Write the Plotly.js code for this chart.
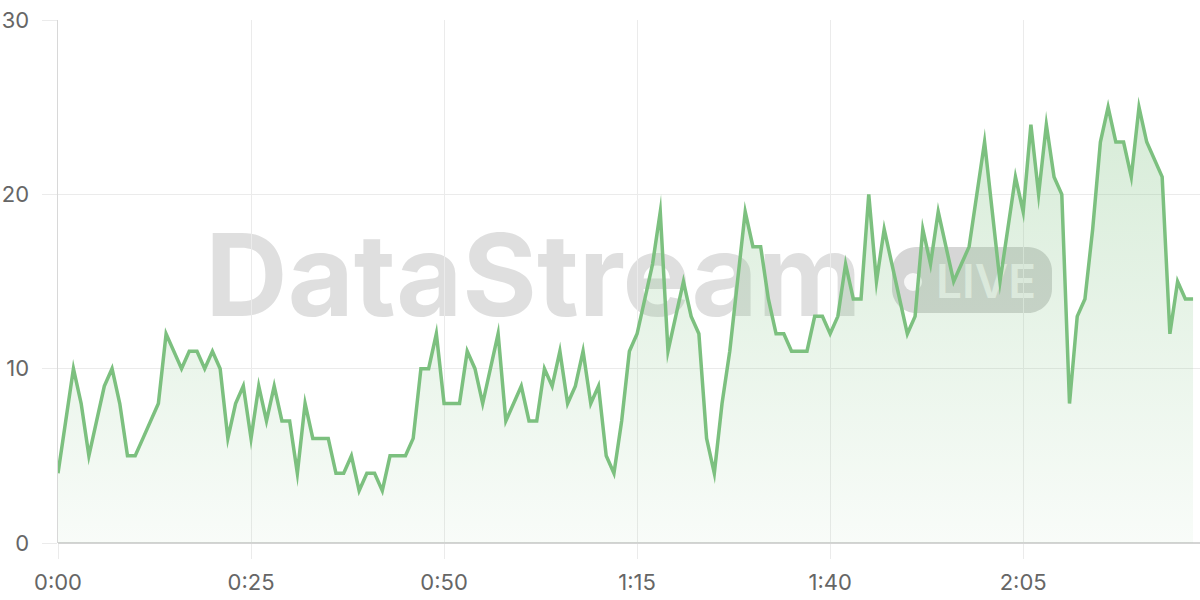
<!DOCTYPE html>
<html>
<head>
<meta charset="utf-8">
<script src="https://cdn.plot.ly/plotly-3.0.1.min.js"></script>
<style>
html,body{margin:0;padding:0;background:#fff;}
#chart{width:1200px;height:600px;}
.js-line{stroke-miterlimit:10;stroke-linejoin:miter;}
</style>
</head>
<body>
<div id="chart"></div>
<script>
// ---- data ----
const seconds = [];
for (let i = 0; i <= 147; i++) seconds.push(i);
const values = [
  4,7,10,8,5,7,9,10,8,5,
  5,6,7,8,12,11,10,11,11,10,
  11,10,6,8,9,6,9,7,9,7,
  7,4,8,6,6,6,4,4,5,3,
  4,4,3,5,5,5,6,10,10,12,
  8,8,8,11,10,8,10,12,7,8,
  9,7,7,10,9,11,8,9,11,8,
  9,5,4,7,11,12,14,16,19,11,
  13,15,13,12,6,4,8,11,15,19,
  17,17,14,12,12,11,11,11,13,13,
  12,13,16,14,14,20,15,18,16,14,
  12,13,18,16,19,17,15,16,17,20,
  23,19,15,18,21,19,24,20,24,21,
  20,8,13,14,18,23,25,23,23,21,
  25,23,22,21,12,15,14,14
];
const xTickVals = [0, 25, 50, 75, 100, 125];
const xTickText = ['0:00', '0:25', '0:50', '1:15', '1:40', '2:05'];
const yTickVals = [0, 10, 20, 30];
const watermarkText = 'DataStream';
const badgeText = 'LIVE';

// ---- layout helpers (pixel -> paper) ----
const L = 58, R = 1200, T = 20, B = 543;
const px = v => (v - L) / (R - L);
const py = v => (B - v) / (B - T);

const green = '#7cc07f';

function roundRectPath(x0, y0, x1, y1, r) {
  const k = 0.5523 * r;
  const X = v => px(v).toFixed(5), Y = v => py(v).toFixed(5);
  return 'M' + X(x0 + r) + ',' + Y(y0) +
    ' L' + X(x1 - r) + ',' + Y(y0) +
    ' C' + X(x1 - r + k) + ',' + Y(y0) + ' ' + X(x1) + ',' + Y(y0 + r - k) + ' ' + X(x1) + ',' + Y(y0 + r) +
    ' L' + X(x1) + ',' + Y(y1 - r) +
    ' C' + X(x1) + ',' + Y(y1 - r + k) + ' ' + X(x1 - r + k) + ',' + Y(y1) + ' ' + X(x1 - r) + ',' + Y(y1) +
    ' L' + X(x0 + r) + ',' + Y(y1) +
    ' C' + X(x0 + r - k) + ',' + Y(y1) + ' ' + X(x0) + ',' + Y(y1 - r + k) + ' ' + X(x0) + ',' + Y(y1 - r) +
    ' L' + X(x0) + ',' + Y(y0 + r) +
    ' C' + X(x0) + ',' + Y(y0 + r - k) + ' ' + X(x0 + r - k) + ',' + Y(y0) + ' ' + X(x0 + r) + ',' + Y(y0) + ' Z';
}

const trace = {
  x: seconds,
  y: values,
  type: 'scatter',
  mode: 'lines',
  line: {color: green, width: 3.5, shape: 'linear'},
  fill: 'tozeroy',
  fillgradient: {
    type: 'vertical',
    start: 0,
    stop: 30,
    colorscale: [[0, 'rgba(124,192,127,0.05)'], [1, 'rgba(124,192,127,0.36)']]
  },
  hoverinfo: 'skip'
};

const tickFont = {family: 'Inter, "Open Sans", sans-serif', size: 22, color: '#666'};

const layout = {
  width: 1200,
  height: 600,
  margin: {l: L, r: 1200 - R, t: T, b: 600 - B},
  paper_bgcolor: '#ffffff',
  plot_bgcolor: '#ffffff',
  showlegend: false,
  xaxis: {
    range: [0, 147.9],
    tickmode: 'array',
    tickvals: xTickVals,
    ticktext: xTickText,
    showgrid: true,
    gridcolor: '#ebebeb',
    gridwidth: 1,
    ticks: 'outside',
    ticklen: 15,
    tickcolor: '#ebebeb',
    tickwidth: 1,
    tickfont: tickFont,
    ticklabelstandoff: 5,
    zeroline: false,
    showline: false,
    fixedrange: true
  },
  yaxis: {
    range: [0, 30],
    tickmode: 'array',
    tickvals: yTickVals,
    showgrid: true,
    gridcolor: '#ebebeb',
    gridwidth: 1,
    ticks: 'outside',
    ticklen: 15,
    tickcolor: '#ebebeb',
    tickwidth: 1,
    tickfont: tickFont,
    ticklabelstandoff: 8,
    zeroline: true,
    zerolinecolor: '#d4d4d4',
    zerolinewidth: 1.5,
    showline: true,
    linecolor: '#d8d8d8',
    linewidth: 1.5,
    fixedrange: true
  },
  shapes: [
    {
      type: 'rect', layer: 'between', xref: 'paper', yref: 'paper',
      x0: px(186), x1: px(881), y0: py(320), y1: py(220),
      line: {width: 0}, fillcolor: 'rgba(0,0,0,0)',
      label: {
        text: watermarkText,
        textposition: 'middle center',
        font: {family: 'Inter, "Open Sans", sans-serif', size: 114, weight: 700, color: 'rgba(150,150,150,0.3)'}
      }
    },
    {
      type: 'path', layer: 'between', xref: 'paper', yref: 'paper',
      path: roundRectPath(892, 247, 1052, 313, 24),
      line: {width: 0}, fillcolor: 'rgba(130,130,130,0.33)'
    },
    {
      type: 'circle', layer: 'between', xref: 'paper', yref: 'paper',
      x0: px(904), x1: px(922), y0: py(291), y1: py(273),
      line: {width: 0}, fillcolor: 'rgba(255,255,255,0.8)'
    },
    {
      type: 'rect', layer: 'between', xref: 'paper', yref: 'paper',
      x0: px(930), x1: px(1042), y0: py(300), y1: py(260),
      line: {width: 0}, fillcolor: 'rgba(0,0,0,0)',
      label: {
        text: badgeText,
        textposition: 'middle center',
        font: {family: 'Inter, "Open Sans", sans-serif', size: 46, weight: 600, color: 'rgba(255,255,255,0.72)'}
      }
    }
  ]
};

Plotly.newPlot('chart', [trace], layout, {displayModeBar: false, staticPlot: true});
</script>
</body>
</html>
